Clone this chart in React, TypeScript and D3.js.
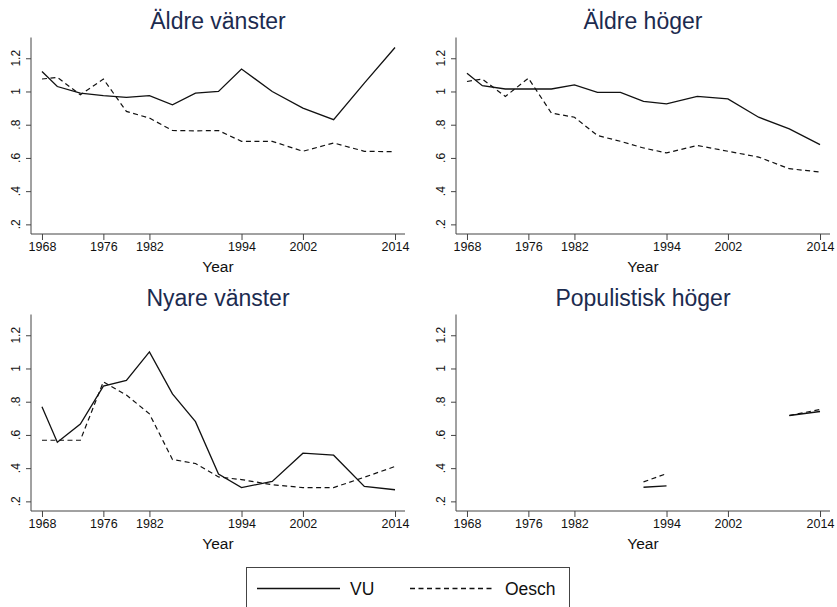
import React, { useEffect, useRef } from 'react';
import * as d3 from 'd3';

// Swedish election years
const years = [1968, 1970, 1973, 1976, 1979, 1982, 1985, 1988, 1991, 1994, 1998, 2002, 2006, 2010, 2014];
const xTicks = [1968, 1976, 1982, 1994, 2002, 2014];
const yTicks = [0.2, 0.4, 0.6, 0.8, 1, 1.2];

const panelTitles = ['Äldre vänster', 'Äldre höger', 'Nyare vänster', 'Populistisk höger'];

const vuAldreVanster = [1.12, 1.03, 0.99, 0.975, 0.965, 0.975, 0.92, 0.99, 1.0, 1.135, 1.0, 0.9, 0.83, 1.05, 1.265];
const oeschAldreVanster = [1.075, 1.085, 0.98, 1.075, 0.88, 0.84, 0.765, 0.763, 0.765, 0.7, 0.7, 0.64, 0.69, 0.64, 0.637];

const vuAldreHoger = [1.11, 1.035, 1.015, 1.015, 1.015, 1.04, 0.995, 0.995, 0.94, 0.925, 0.97, 0.955, 0.845, 0.775, 0.68];
const oeschAldreHoger = [1.06, 1.075, 0.97, 1.08, 0.87, 0.845, 0.735, 0.7, 0.66, 0.63, 0.675, 0.64, 0.605, 0.535, 0.515];

const vuNyareVanster = [0.77, 0.556, 0.665, 0.894, 0.928, 1.1, 0.847, 0.68, 0.365, 0.283, 0.32, 0.49, 0.478, 0.29, 0.27];
const oeschNyareVanster = [0.568, 0.568, 0.568, 0.92, 0.84, 0.727, 0.452, 0.428, 0.347, 0.331, 0.3, 0.283, 0.283, 0.345, 0.41];

const vuPopulistisk = [null, null, null, null, null, null, null, null, 0.285, 0.293, null, null, null, 0.717, 0.741];
const oeschPopulistisk = [null, null, null, null, null, null, null, null, 0.317, 0.367, null, null, null, 0.717, 0.753];

const vuSeries = [vuAldreVanster, vuAldreHoger, vuNyareVanster, vuPopulistisk];
const oeschSeries = [oeschAldreVanster, oeschAldreHoger, oeschNyareVanster, oeschPopulistisk];

const legendLabels = ['VU', 'Oesch'];

const FONT = "'Liberation Sans', Arial, sans-serif";
const TITLE_COLOR = '#1c2b4f';
const AXIS_COLOR = '#444';
const LINE_COLOR = '#111';
const DASH = '5,3.5';

function Chart() {
  const ref = useRef<SVGSVGElement>(null);

  useEffect(() => {
    const svg = d3.select(ref.current);
    svg.selectAll('*').remove();

    const colStep = 425;
    const rowStep = 277;

    const x = d3.scaleLinear().domain([1966.57, 2015.3]).range([31, 405]);
    const y = d3.scaleLinear().domain([0.142, 1.325]).range([234, 37.5]);

    const fmt = (v: number) => {
      const s = d3.format('.1f')(v);
      if (s.endsWith('.0')) return s.slice(0, -2);
      return s.startsWith('0') ? s.slice(1) : s;
    };

    panelTitles.forEach((title, i) => {
      const col = i % 2;
      const row = Math.floor(i / 2);
      const g = svg.append('g').attr('transform', `translate(${col * colStep},${row * rowStep})`);

      g.append('text')
        .attr('x', (x.range()[0] + x.range()[1]) / 2)
        .attr('y', 29)
        .attr('text-anchor', 'middle')
        .attr('font-family', FONT)
        .attr('font-size', 23)
        .attr('fill', TITLE_COLOR)
        .text(title);

      // y axis
      const yAxis = d3.axisLeft(y).tickValues(yTicks).tickSize(5).tickFormat(() => '');
      const ya = g.append('g').attr('transform', `translate(${x.range()[0]},0)`).call(yAxis);
      ya.select('.domain').attr('stroke', AXIS_COLOR).attr('d', `M0,${y.range()[1]}V${y.range()[0]}`);
      ya.selectAll('.tick line').attr('stroke', AXIS_COLOR);

      yTicks.forEach(t => {
        g.append('text')
          .attr('transform', `translate(19.5,${y(t)}) rotate(-90)`)
          .attr('text-anchor', 'middle')
          .attr('font-family', FONT)
          .attr('font-size', 12)
          .attr('fill', '#111')
          .text(fmt(t));
      });

      // x axis
      const xAxis = d3.axisBottom(x).tickValues(xTicks).tickSize(6).tickFormat(d3.format('d'));
      const xa = g.append('g').attr('transform', `translate(0,${y.range()[0]})`).call(xAxis);
      xa.select('.domain').attr('stroke', AXIS_COLOR).attr('d', `M${x.range()[0]},0H${x.range()[1]}`);
      xa.selectAll('.tick line').attr('stroke', AXIS_COLOR);
      xa.selectAll('.tick text')
        .attr('y', 17)
        .attr('dy', 0)
        .attr('font-family', FONT)
        .attr('font-size', 12.5)
        .attr('fill', '#111');

      g.append('text')
        .attr('x', (x.range()[0] + x.range()[1]) / 2)
        .attr('y', 272)
        .attr('text-anchor', 'middle')
        .attr('font-family', FONT)
        .attr('font-size', 15.5)
        .attr('fill', '#111')
        .text('Year');

      const line = d3.line<number | null>()
        .defined(d => d != null)
        .x((_, j) => x(years[j]))
        .y(d => y(d as number));

      g.append('path')
        .attr('d', line(oeschSeries[i]))
        .attr('fill', 'none')
        .attr('stroke', LINE_COLOR)
        .attr('stroke-width', 1.2)
        .attr('stroke-dasharray', DASH);

      g.append('path')
        .attr('d', line(vuSeries[i]))
        .attr('fill', 'none')
        .attr('stroke', LINE_COLOR)
        .attr('stroke-width', 1.3);
    });

    // legend
    const lg = svg.append('g');
    lg.append('rect')
      .attr('x', 246.5)
      .attr('y', 567.5)
      .attr('width', 323)
      .attr('height', 60)
      .attr('fill', 'white')
      .attr('stroke', AXIS_COLOR)
      .attr('stroke-width', 1);

    const items = [
      { label: legendLabels[0], x1: 257, x2: 340, dash: null },
      { label: legendLabels[1], x1: 410, x2: 492, dash: DASH },
    ];
    items.forEach(it => {
      lg.append('line')
        .attr('x1', it.x1).attr('x2', it.x2)
        .attr('y1', 588.5).attr('y2', 588.5)
        .attr('stroke', LINE_COLOR)
        .attr('stroke-width', 1.3)
        .attr('stroke-dasharray', it.dash);
      lg.append('text')
        .attr('x', it.x2 + 10 + (it.dash ? 3 : 0))
        .attr('y', 595)
        .attr('font-family', FONT)
        .attr('font-size', 17.5)
        .attr('fill', '#111')
        .text(it.label);
    });
  }, []);

  return (
    <svg
      ref={ref}
      width={837}
      height={607}
      style={{ position: 'absolute', left: 0, top: 0, background: 'white' }}
    />
  );
}

export default function App() {
  return <Chart />;
}
